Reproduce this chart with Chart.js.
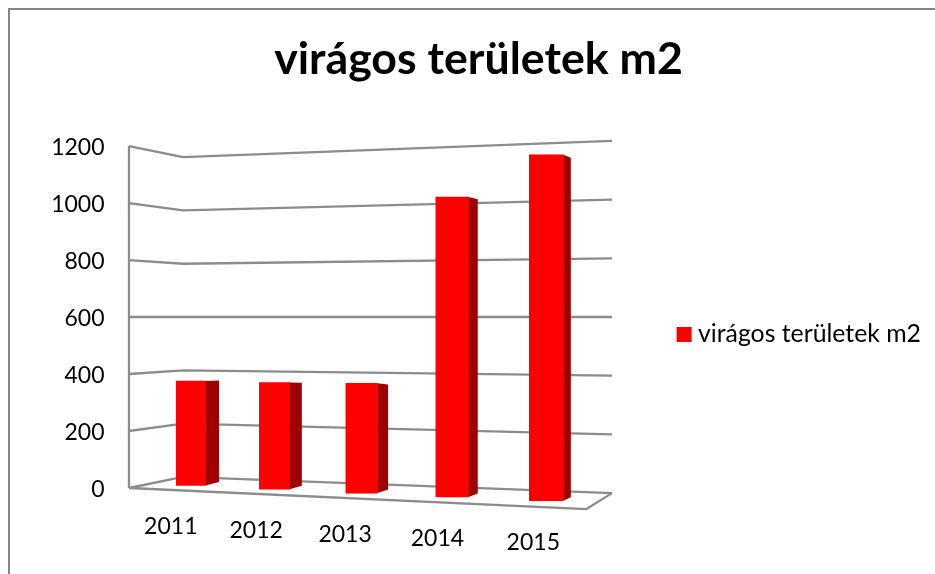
<!DOCTYPE html>
<html>
<head>
<meta charset="utf-8">
<style>html,body{margin:0;padding:0;background:#fff}#wrap{width:935px;height:574px;position:relative}</style>
<script src="https://cdn.jsdelivr.net/npm/chart.js@4"></script>
</head>
<body>
<div id="wrap"><canvas id="c" width="935" height="574"></canvas></div>
<script>
const chartTitle = "virágos területek m2";
const years = ["2011", "2012", "2013", "2014", "2015"];
const areas = [372, 372, 374, 1000, 1130];
const yTicks = [0, 200, 400, 600, 800, 1000, 1200];

const GRID = "#8c8c8c", FRONT = "#ff0000", SIDE = "#a00000", FONT = "Lato, Carlito, sans-serif";

// Perspective model applied on top of the library's scale pixels
const X0 = 190.5, X1 = 547;
const t = x => (x - X0) / (X1 - X0);
const warpX = x => x + 0.8 + 0.00022 * (x - X0) * (x - X1);
const depthFactor = x => 0.985 + 0.09 * t(x);

const perspective = {
  id: "perspective",
  afterLayout(chart) {
    chart.legend.top += 95;
  },
  afterDatasetsUpdate(chart) {
    const y = chart.scales.y, cy = y.getPixelForValue(600);
    chart.getDatasetMeta(0).data.forEach(el => {
      const f = depthFactor(el.x), k = t(el.x);
      el.y = cy + (el.y - cy) * f;
      el.base = cy + (el.base - cy) * f;
      el.width = 29 + 5 * k;
      el.x = warpX(el.x);
      el.height = el.base - el.y;
    });
  },
  beforeDraw(chart) {
    const x = chart.scales.x;
    const ctx = chart.ctx;
    x.getLabelItems(chart.chartArea).forEach((item, i) => {
      const px = x.getPixelForTick(i), k = t(px);
      item.options.translation = [warpX(px) - 20 + 7 * k, 526.5 + 15.7 * k];
      item.options.textBaseline = "middle";
      item.options.textAlign = "center";
      item.textOffset = 0;
    });
    // slide frame of the pasted picture
    ctx.save();
    ctx.strokeStyle = "#868686"; ctx.lineWidth = 2;
    ctx.beginPath(); ctx.moveTo(9, 574); ctx.lineTo(9, 9); ctx.lineTo(935, 9); ctx.stroke();
    ctx.restore();
  },
  beforeDatasetsDraw(chart) {
    const y = chart.scales.y, cy = y.getPixelForValue(600), ctx = chart.ctx;
    const w = (v, f) => cy + (y.getPixelForValue(v) - cy) * f;
    ctx.save();
    ctx.strokeStyle = GRID; ctx.lineWidth = 2.3; ctx.lineJoin = "round";
    ctx.beginPath();
    ctx.moveTo(129, y.getPixelForValue(1200)); ctx.lineTo(129, y.getPixelForValue(0));
    yTicks.forEach(v => {
      ctx.moveTo(129, w(v, 1)); ctx.lineTo(183, w(v, 0.935)); ctx.lineTo(612, w(v, 1.03));
    });
    // floor front edge
    ctx.moveTo(129, w(0, 1)); ctx.lineTo(586, w(0, 1.124)); ctx.lineTo(612, w(0, 1.03));
    ctx.stroke();
    ctx.restore();
  },
  afterDatasetsDraw(chart) {
    const ctx = chart.ctx;
    ctx.save();
    ctx.fillStyle = SIDE;
    chart.getDatasetMeta(0).data.forEach(el => {
      const right = el.x + el.width / 2, k = t(el.x);
      const dx = 13.7 - 6.2 * k, topDy = -0.5 + 3.5 * k, botDy = -3.5;
      ctx.beginPath();
      ctx.moveTo(right, el.y); ctx.lineTo(right + dx, el.y + topDy);
      ctx.lineTo(right + dx, el.base + botDy); ctx.lineTo(right, el.base);
      ctx.closePath(); ctx.fill();
    });
    ctx.restore();
  }
};

new Chart(document.getElementById("c"), {
  type: "bar",
  data: {
    labels: years,
    datasets: [{ label: chartTitle, data: areas, backgroundColor: FRONT, clip: false, barThickness: 30 }]
  },
  plugins: [perspective],
  options: {
    responsive: false, animation: false, events: [],
    layout: { padding: { left: 26, right: 4, top: 0, bottom: 0 } },
    plugins: {
      tooltip: { enabled: false },
      title: {
        display: true, text: chartTitle, color: "#000",
        font: { family: FONT, size: 44.7, weight: "bold" },
        padding: { top: 33, bottom: 59.4 }
      },
      legend: {
        position: "right", maxWidth: 420,
        labels: {
          color: "#000", font: { family: FONT, size: 24.8 },
          boxWidth: 3, boxHeight: 3, padding: 92.5,
          generateLabels(chart) {
            return Chart.defaults.plugins.legend.labels.generateLabels(chart)
              .map(l => Object.assign(l, { lineWidth: 12, strokeStyle: FRONT, fillStyle: FRONT }));
          }
        }
      }
    },
    scales: {
      x: {
        grid: { display: false }, border: { display: false },
        ticks: { color: "#000", font: { family: FONT, size: 23 }, maxRotation: 0, autoSkip: false },
        afterFit(s) { s.height = 86; }
      },
      y: {
        min: 0, max: 1200,
        grid: { display: false, drawTicks: false }, border: { display: false },
        ticks: {
          color: "#000", font: { family: FONT, size: 23 }, stepSize: 200, padding: 41, labelOffset: 2,
          callback: v => String(v)
        },
        afterFit(s) { s.width = 119.5; }
      }
    }
  }
});
</script>
</body>
</html>
